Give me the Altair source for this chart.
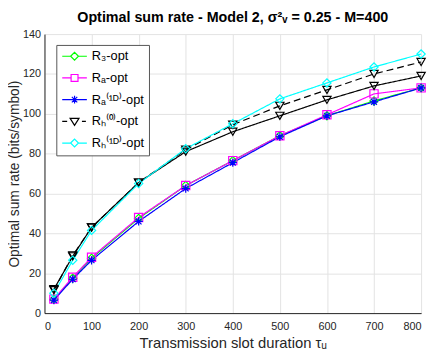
import altair as alt
import pandas as pd

# ---- data ----
tau = [20, 60, 100, 200, 300, 400, 500, 600, 700, 800]
r3_opt = [7.0, 17.5, 27.5, 47.5, 64.0, 76.5, 89.0, 99.0, 106.5, 113.0]
ra_opt = [7.0, 18.0, 28.0, 48.0, 64.0, 76.5, 89.0, 99.5, 110.0, 113.0]
ra1d_opt = [6.5, 17.0, 26.5, 46.0, 62.5, 75.5, 88.5, 99.0, 106.0, 113.0]
rh0_opt = [11.5, 29.0, 43.0, 65.5, 82.0, 94.5, 104.0, 112.0, 120.0, 126.0]
rh_solid = [12.0, 28.5, 43.0, 65.5, 81.0, 91.0, 99.0, 107.0, 114.0, 119.0]
rh1d_opt = [10.0, 26.5, 41.5, 65.0, 82.5, 95.0, 107.5, 115.5, 123.5, 130.0]

names = ["R₃-opt", "Rₐ-opt", "Rₐ⁽¹ᴰ⁾-opt", "Rₕ⁽⁰⁾-opt", "Rₕ-opt", "Rₕ⁽¹ᴰ⁾-opt"]
values = [r3_opt, ra_opt, ra1d_opt, rh0_opt, rh_solid, rh1d_opt]
colors = ["#00ff00", "#ff00ff", "#0000ff", "#000000", "#000000", "#00ffff"]
dashes = [[1, 0], [1, 0], [1, 0], [7, 4], [1, 0], [1, 0]]
asterisk = "M-1,0L1,0M0,-1L0,1M-0.7,-0.7L0.7,0.7M-0.7,0.7L0.7,-0.7"
shapes = ["diamond", "square", asterisk, "triangle-down", "triangle-down", "diamond"]

legend_names = ["R₃-opt", "Rₐ-opt", "Rₐ⁽¹ᴰ⁾-opt", "Rₕ⁽⁰⁾-opt", "Rₕ⁽¹ᴰ⁾-opt"]
legend_colors = ["#00ff00", "#ff00ff", "#0000ff", "#000000", "#00ffff"]
legend_paths = [
    "M-1.1,0L0.6,0M0.6,0L1.4,-0.8L2.2,0L1.4,0.8ZM2.2,0L3.9,0",
    "M-1.1,0L0.7,0M0.7,-0.7L2.1,-0.7L2.1,0.7L0.7,0.7ZM2.1,0L3.9,0",
    "M-1.1,0L3.9,0M1.4,-0.8L1.4,0.8M0.85,-0.55L1.95,0.55M0.85,0.55L1.95,-0.55",
    "M-1.1,0L-0.1,0M0.5,-0.6L2.3,-0.6L1.4,0.8ZM2.9,0L3.7,0",
    "M-1.1,0L0.6,0M0.6,0L1.4,-0.8L2.2,0L1.4,0.8ZM2.2,0L3.9,0",
]

rows = []
for n, vals in zip(names, values):
    for t, v in zip(tau, vals):
        rows.append({"tau": t, "rate": v, "series": n})
df = pd.DataFrame(rows)

FONT = "Liberation Sans"
x_enc = alt.X("tau:Q", scale=alt.Scale(domain=[0, 800], nice=False),
              axis=alt.Axis(values=list(range(0, 801, 100)), title="Transmission slot duration τᵤ",
                            labelPadding=8, titlePadding=4))
y_enc = alt.Y("rate:Q", scale=alt.Scale(domain=[0, 140], nice=False),
              axis=alt.Axis(values=list(range(0, 141, 20)), title="Optimal sum rate (bits/symbol)",
                            labelPadding=4, titlePadding=1, titleFontSize=14))

color_enc = alt.Color("series:N", scale=alt.Scale(domain=names, range=colors), legend=None)

lines = alt.Chart(df).mark_line(strokeWidth=1.2).encode(
    x=x_enc, y=y_enc, color=color_enc,
    strokeDash=alt.StrokeDash("series:N", scale=alt.Scale(domain=names, range=dashes), legend=None),
)
points = alt.Chart(df).mark_point(filled=False, size=70, strokeWidth=1.2, opacity=1).encode(
    x=x_enc, y=y_enc, color=color_enc,
    shape=alt.Shape("series:N", scale=alt.Scale(domain=names, range=shapes), legend=None),
)

leg = alt.Legend(title=None, orient="none", legendX=12, legendY=11, symbolSize=100,
                 symbolStrokeWidth=1.2, labelOffset=18, labelFontSize=13, labelFont=FONT,
                 labelColor="#000000", padding=5, strokeColor="#555555", fillColor="white",
                 rowPadding=8, cornerRadius=0)
legend_layer = alt.Chart(df).transform_filter("datum.tau < 0").mark_point(
    filled=False, strokeWidth=1.2, opacity=1).encode(
    x=x_enc, y=y_enc,
    stroke=alt.Stroke("series:N", scale=alt.Scale(domain=legend_names, range=legend_colors), legend=leg),
    shape=alt.Shape("series:N", scale=alt.Scale(domain=legend_names, range=legend_paths), legend=leg),
)

chart = alt.layer(lines, points, legend_layer).resolve_scale(
    shape="independent", stroke="independent"
).resolve_legend(shape="independent", stroke="independent").properties(
    width=382, height=283,
    title=alt.Title("Optimal sum rate - Model 2, σ²ᵥ = 0.25 - M=400", fontSize=14.5, font=FONT,
                    fontWeight="bold", color="#000000", offset=3),
    autosize=alt.AutoSizeParams(type="none"),
    padding={"left": 37, "top": 24, "right": 7, "bottom": 38},
).configure_view(stroke=None).configure_axis(
    grid=True, gridColor="#e3e3e3", gridWidth=1, domainColor="#262626", domainWidth=1,
    ticks=False, labelFont=FONT, labelFontSize=11, labelColor="#262626",
    titleFont=FONT, titleFontSize=15, titleColor="#262626", titleFontWeight="normal",
)

chart.save("out.html", embed_options={"renderer": "svg", "actions": False})
